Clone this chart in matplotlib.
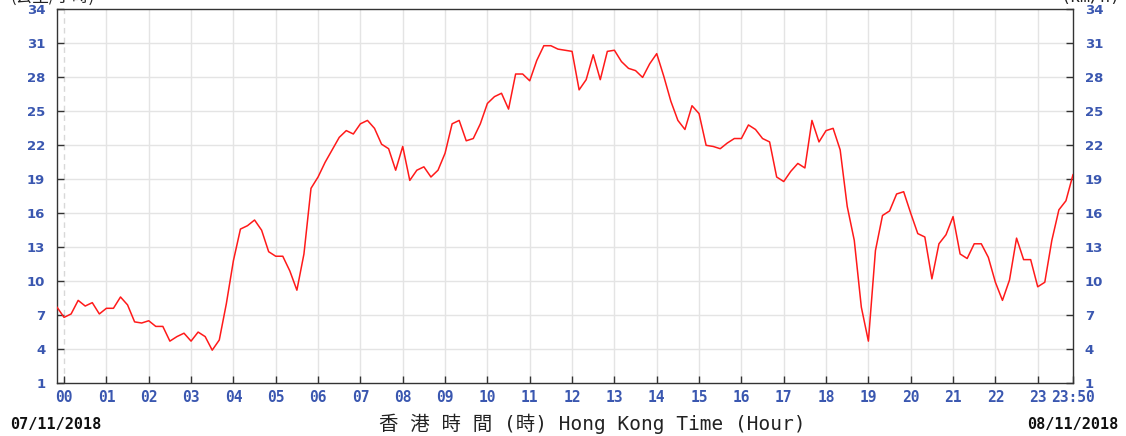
import numpy as np
import matplotlib
matplotlib.use("Agg")
import matplotlib.pyplot as plt

# 10-minute wind speed readings (km/h), from 23:50 on 07/11 to 23:50 on 08/11
minutes = list(range(-10, 1440, 10))
speed = [
    7.7, 6.8, 7.1, 8.3, 7.8, 8.1, 7.1, 7.6, 7.6, 8.6, 7.9, 6.4, 6.3, 6.5, 6.0,
    6.0, 4.7, 5.1, 5.4, 4.7, 5.5, 5.1, 3.9, 4.8, 8.0, 11.8, 14.6, 14.9, 15.4, 14.5,
    12.6, 12.2, 12.2, 10.9, 9.2, 12.4, 18.2, 19.2, 20.5, 21.6, 22.7, 23.3, 23.0, 23.9, 24.2,
    23.5, 22.1, 21.7, 19.8, 21.9, 18.9, 19.8, 20.1, 19.2, 19.8, 21.3, 23.9, 24.2, 22.4, 22.6,
    23.9, 25.7, 26.3, 26.6, 25.2, 28.3, 28.3, 27.7, 29.5, 30.8, 30.8, 30.5, 30.4, 30.3, 26.9,
    27.8, 30.0, 27.8, 30.3, 30.4, 29.4, 28.8, 28.6, 28.0, 29.2, 30.1, 28.1, 25.9, 24.2, 23.4,
    25.5, 24.8, 22.0, 21.9, 21.7, 22.2, 22.6, 22.6, 23.8, 23.4, 22.6, 22.3, 19.2, 18.8, 19.7,
    20.4, 20.0, 24.2, 22.3, 23.3, 23.5, 21.6, 16.6, 13.6, 7.7, 4.7, 12.7, 15.8, 16.2, 17.7,
    17.9, 16.0, 14.2, 13.9, 10.2, 13.3, 14.1, 15.7, 12.4, 12.0, 13.3, 13.3, 12.1, 9.9, 8.3,
    10.1, 13.8, 11.9, 11.9, 9.5, 9.9, 13.6, 16.3, 17.1, 19.4,
]

hour_ticks = list(range(24)) + [23 + 50 / 60]
hour_labels = ["%02d" % h for h in range(24)] + ["23:50"]
speed_ticks = list(range(1, 35, 3))

blue = "#3a57b0"
hours = np.array(minutes) / 60.0

fig = plt.figure(figsize=(11.26, 4.36), dpi=100)
ax = fig.add_axes([57 / 1126, 1 - 383 / 436, 1016 / 1126, 373.5 / 436])

# hour grid, day boundary drawn dashed
for h in range(1, 24):
    ax.axvline(h, color="#e4e4e4", lw=1.0, zorder=0)
ax.axvline(0, color="#d8d8d8", lw=1.0, ls=(0, (4, 3)), zorder=0)
for v in speed_ticks[1:-1]:
    ax.axhline(v, color="#e4e4e4", lw=1.0, zorder=0)

ax.plot(hours, speed, color="#ff1a1a", lw=1.1, zorder=3)

ax.set_xlim(-10 / 60, 23 + 50 / 60)
ax.set_ylim(1, 34)
ax.set_xticks(hour_ticks)
ax.set_xticklabels(hour_labels)
ax.set_yticks(speed_ticks)

ax.tick_params(axis="x", direction="in", length=5, width=1, pad=5,
               labelsize=10.5, labelcolor=blue, color="#333333")
for lab in ax.get_xticklabels():
    lab.set_family("DejaVu Sans Mono")
    lab.set_weight("bold")

ax.tick_params(axis="y", direction="in", length=5, width=1, pad=8.5,
               labelsize=9.5, labelcolor=blue, color="#333333",
               right=True, labelright=True)
for t in ax.yaxis.get_major_ticks():
    t.label1.set_weight("bold")
    t.label2.set_weight("bold")

for sp in ax.spines.values():
    sp.set_color("#333333")
    sp.set_linewidth(1.0)

# unit captions sitting on the top edge
fig.text(10 / 1126, 1 + 3 / 436, "(公里/小時)", ha="left", va="center",
         fontsize=12, family=["Noto Sans CJK TC", "DejaVu Sans"], color="#222222")
fig.text(1120 / 1126, 1 + 3 / 436, "(km/h)", ha="right", va="center",
         fontsize=12, family="DejaVu Sans Mono", color="#222222")

fig.text(10 / 1126, 1 - 424 / 436, "07/11/2018", ha="left", va="center",
         fontsize=11, family="DejaVu Sans Mono", weight="bold", color="#111111")
fig.text(1118 / 1126, 1 - 424 / 436, "08/11/2018", ha="right", va="center",
         fontsize=11, family="DejaVu Sans Mono", weight="bold", color="#111111")
fig.text(592 / 1126, 1 - 424 / 436, "香 港 時 間 (時) Hong Kong Time (Hour)",
         ha="center", va="center", fontsize=14,
         family=["DejaVu Sans Mono", "Noto Sans CJK TC"], color="#222222")

fig.savefig("out.png", dpi=100)
